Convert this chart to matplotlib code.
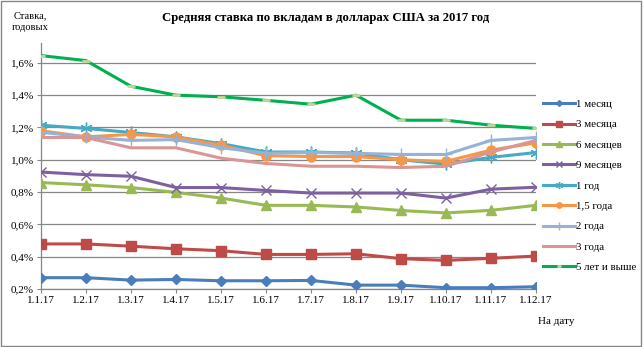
import matplotlib.pyplot as plt
from matplotlib.ticker import FuncFormatter
from matplotlib.patches import Rectangle

plt.rcParams['font.family'] = ['Liberation Serif', 'DejaVu Serif']

# Dates of observation
dates = ['1.1.17', '1.2.17', '1.3.17', '1.4.17', '1.5.17', '1.6.17',
         '1.7.17', '1.8.17', '1.9.17', '1.10.17', '1.11.17', '1.12.17']

# Average USD deposit rates, % per annum
m1 = [0.27, 0.27, 0.255, 0.259, 0.251, 0.251, 0.253, 0.224, 0.224, 0.208, 0.208, 0.214]
m3 = [0.479, 0.479, 0.465, 0.449, 0.437, 0.414, 0.414, 0.418, 0.388, 0.377, 0.39, 0.404]
m6 = [0.859, 0.845, 0.828, 0.798, 0.763, 0.718, 0.718, 0.708, 0.686, 0.671, 0.687, 0.718]
m9 = [0.924, 0.908, 0.898, 0.828, 0.828, 0.81, 0.794, 0.794, 0.794, 0.763, 0.818, 0.83]
y1 = [1.214, 1.194, 1.169, 1.142, 1.10, 1.048, 1.048, 1.042, 1.00, 0.973, 1.015, 1.045]
y15 = [1.18, 1.142, 1.157, 1.142, 1.09, 1.025, 1.02, 1.02, 1.00, 0.99, 1.06, 1.105]
y2 = [1.17, 1.142, 1.12, 1.125, 1.075, 1.04, 1.045, 1.04, 1.033, 1.033, 1.12, 1.138]
y3 = [1.138, 1.138, 1.074, 1.074, 1.01, 0.977, 0.96, 0.96, 0.952, 0.96, 1.048, 1.12]
y5 = [1.645, 1.614, 1.455, 1.40, 1.39, 1.368, 1.344, 1.40, 1.245, 1.245, 1.214, 1.194]

series = [
    ('1 месяц', m1, '#4A7EBB', 'D', 5),
    ('3 месяца', m3, '#BE4B48', 's', 6.5),
    ('6 месяцев', m6, '#98B954', '^', 7),
    ('9 месяцев', m9, '#7D60A0', 'x', 7.5),
    ('1 год', y1, '#46AAC5', (6, 2, 0), 8.5),
    ('1,5 года', y15, '#F79646', 'o', 6.5),
    ('2 года', y2, '#95B3D7', '+', 8.5),
    ('3 года', y3, '#D99694', '', 0),
    ('5 лет и выше', y5, '#00B050', '_', 6),
]

fig = plt.figure(figsize=(6.43, 3.47), dpi=100)
ax = fig.add_axes([41 / 643, 1 - 289 / 347, 495 / 643, 246 / 347])

x = list(range(len(dates)))
for name, vals, col, mk, ms in series:
    if name == '5 лет и выше':
        ax.plot(x, vals, color=col, lw=2.2, marker=mk, ms=ms, mew=2,
                mec='#C4D79B', label=name, zorder=3)
    elif mk in ('x', '+') or isinstance(mk, tuple):
        ax.plot(x, vals, color=col, lw=2.2, marker=mk, ms=ms, mew=1.0,
                label=name, zorder=3)
    else:
        ax.plot(x, vals, color=col, lw=2.2, marker=mk if mk else None,
                ms=ms, label=name, zorder=3)

ax.set_xlim(0, 11)
ax.set_ylim(0.2, 1.723)
ax.set_yticks([0.2, 0.4, 0.6, 0.8, 1.0, 1.2, 1.4, 1.6])
ax.yaxis.set_major_formatter(FuncFormatter(lambda v, p: f'{v:.1f}%'.replace('.', ',')))
ax.set_xticks(x)
ax.set_xticklabels(dates)
ax.grid(axis='y', color='#868686', lw=0.9)
ax.set_axisbelow(True)
for s in ('top', 'right'):
    ax.spines[s].set_visible(False)
for s in ('left', 'bottom'):
    ax.spines[s].set_color('#868686')
    ax.spines[s].set_linewidth(0.9)
ax.tick_params(axis='both', length=3, color='#868686', labelsize=8, pad=2)

fig.text(326 / 643, 1 - 18 / 347, 'Средняя ставка по вкладам в долларах США за 2017 год',
         ha='center', va='center', fontsize=9.2, fontweight='bold')
fig.text(30 / 643, 1 - 22 / 347, 'Ставка,\nгодовых', ha='center', va='center',
         fontsize=7.5, linespacing=1.4)
fig.text(556 / 643, 1 - 321 / 347, 'На дату', ha='center', va='center', fontsize=8)

ax.legend(loc='upper left', bbox_to_anchor=(539 / 643, 1 - 95 / 347),
          bbox_transform=fig.transFigure, frameon=False, fontsize=7.8,
          handlelength=2.9, handletextpad=0.15, labelspacing=1.0,
          markerscale=0.6, borderaxespad=0)

fig.add_artist(Rectangle((0.002, 0.003), 0.995, 0.993, transform=fig.transFigure,
                         fill=False, ec='#868686', lw=1))

fig.savefig('out.png', dpi=100)
